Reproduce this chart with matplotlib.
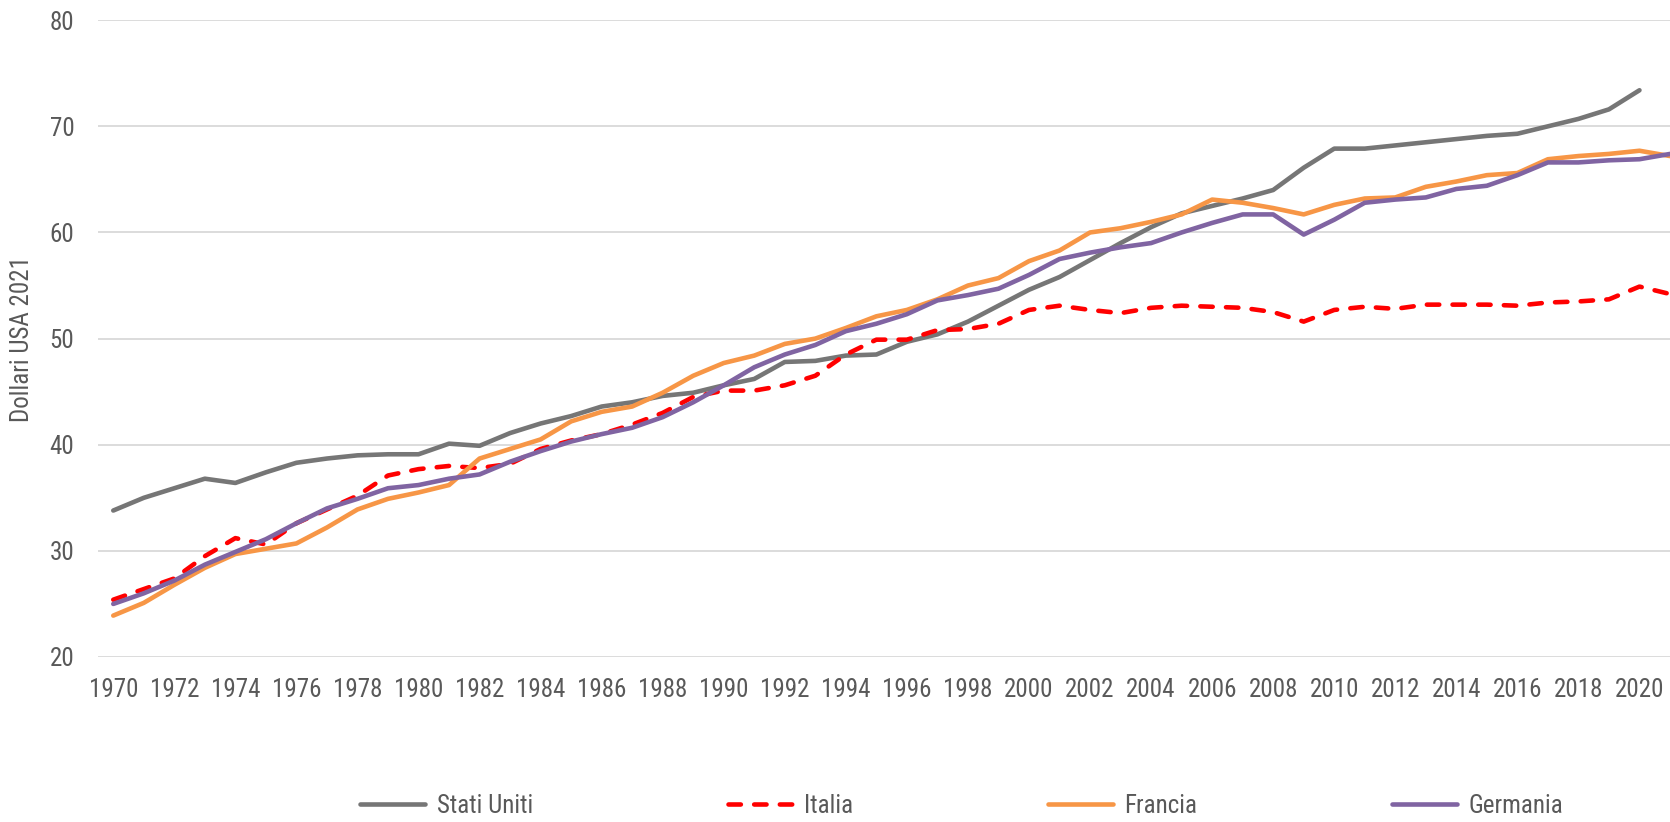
import numpy as np
import matplotlib
matplotlib.use('Agg')
import matplotlib.pyplot as plt

# anni
years = np.arange(1970, 2022)

# valori (dollari USA 2021)
stati_uniti = [33.8, 35.0, 35.9, 36.8, 36.4, 37.4, 38.3, 38.7, 39.0, 39.1,
               39.1, 40.1, 39.9, 41.1, 42.0, 42.7, 43.6, 44.0, 44.6, 44.9,
               45.6, 46.2, 47.8, 47.9, 48.4, 48.5, 49.7, 50.4, 51.6, 53.1,
               54.6, 55.8, 57.4, 59.0, 60.5, 61.8, 62.5, 63.2, 64.0, 66.1,
               67.9, 67.9, 68.2, 68.5, 68.8, 69.1, 69.3, 70.0, 70.7, 71.6,
               73.4, np.nan]
italia = [25.4, 26.4, 27.4, 29.5, 31.2, 30.6, 32.6, 33.9, 35.2, 37.1,
          37.7, 38.0, 37.8, 38.2, 39.6, 40.4, 41.0, 41.9, 43.0, 44.5,
          45.1, 45.1, 45.6, 46.5, 48.5, 49.9, 49.9, 50.8, 50.9, 51.4,
          52.7, 53.1, 52.7, 52.4, 52.9, 53.1, 53.0, 52.9, 52.5, 51.6,
          52.7, 53.0, 52.8, 53.2, 53.2, 53.2, 53.1, 53.4, 53.5, 53.7,
          54.9, 54.2]
francia = [23.9, 25.1, 26.8, 28.4, 29.7, 30.2, 30.7, 32.2, 33.9, 34.9,
           35.5, 36.2, 38.7, 39.6, 40.5, 42.2, 43.1, 43.6, 44.9, 46.5,
           47.7, 48.4, 49.5, 50.0, 51.0, 52.1, 52.7, 53.7, 55.0, 55.7,
           57.3, 58.3, 60.0, 60.4, 61.0, 61.7, 63.1, 62.8, 62.3, 61.7,
           62.6, 63.2, 63.3, 64.3, 64.8, 65.4, 65.6, 66.9, 67.2, 67.4,
           67.7, 67.2]
germania = [25.0, 26.0, 27.2, 28.7, 29.9, 31.1, 32.6, 34.0, 34.9, 35.9,
            36.2, 36.8, 37.2, 38.4, 39.4, 40.3, 41.0, 41.6, 42.6, 44.0,
            45.6, 47.3, 48.5, 49.4, 50.7, 51.4, 52.3, 53.6, 54.1, 54.7,
            56.0, 57.5, 58.1, 58.6, 59.0, 60.0, 60.9, 61.7, 61.7, 59.8,
            61.2, 62.8, 63.1, 63.3, 64.1, 64.4, 65.4, 66.6, 66.6, 66.8,
            66.9, 67.4]

yticks = [20, 30, 40, 50, 60, 70, 80]
xticks = list(range(1970, 2021, 2))

def main():
    # carattere stretto simile ad Arial Narrow
    plt.rcParams['font.family'] = ['Roboto Condensed', 'DejaVu Sans']
    testo = '#595959'
    fs = 18

    fig = plt.figure(figsize=(16.7, 8.22), dpi=100)
    ax = fig.add_axes([98 / 1670, 1 - 657 / 822, 1 - 98 / 1670, (657 - 20.2) / 822])

    lw = 3.3
    ax.plot(years, stati_uniti, color='#767676', lw=lw, label='Stati Uniti',
            solid_capstyle='round', solid_joinstyle='round')
    ax.plot(years, italia, color='#ff0000', lw=lw, label='Italia',
            dashes=(2.7, 2.9), dash_capstyle='round', dash_joinstyle='round')
    ax.plot(years, francia, color='#f79646', lw=lw, label='Francia',
            solid_capstyle='round', solid_joinstyle='round')
    ax.plot(years, germania, color='#8064a2', lw=lw, label='Germania',
            solid_capstyle='round', solid_joinstyle='round')

    ax.set_xlim(1969.5, 2021.0)
    ax.set_ylim(20, 80)
    ax.set_yticks(yticks)
    ax.set_xticks(xticks)
    ax.set_xticklabels([str(x) for x in xticks])
    ax.grid(axis='y', color='#d9d9d9', lw=1.3)
    ax.set_axisbelow(True)
    for s in ax.spines.values():
        s.set_visible(False)
    ax.tick_params(axis='x', length=0, pad=15, labelsize=fs, labelcolor=testo)
    ax.tick_params(axis='y', length=0, pad=17, labelsize=fs, labelcolor=testo)

    ax.set_ylabel('Dollari USA 2021', fontsize=fs, color=testo)
    ax.yaxis.set_label_coords(-0.041, 0.5)

    fig.legend(loc='center', bbox_to_anchor=(0.576, 16 / 822), ncol=4,
               frameon=False, handlelength=2.6, handletextpad=0.45,
               columnspacing=7.8, prop={'size': fs}, labelcolor=testo)

    plt.savefig('out.png', dpi=100)

if __name__ == '__main__':
    main()
